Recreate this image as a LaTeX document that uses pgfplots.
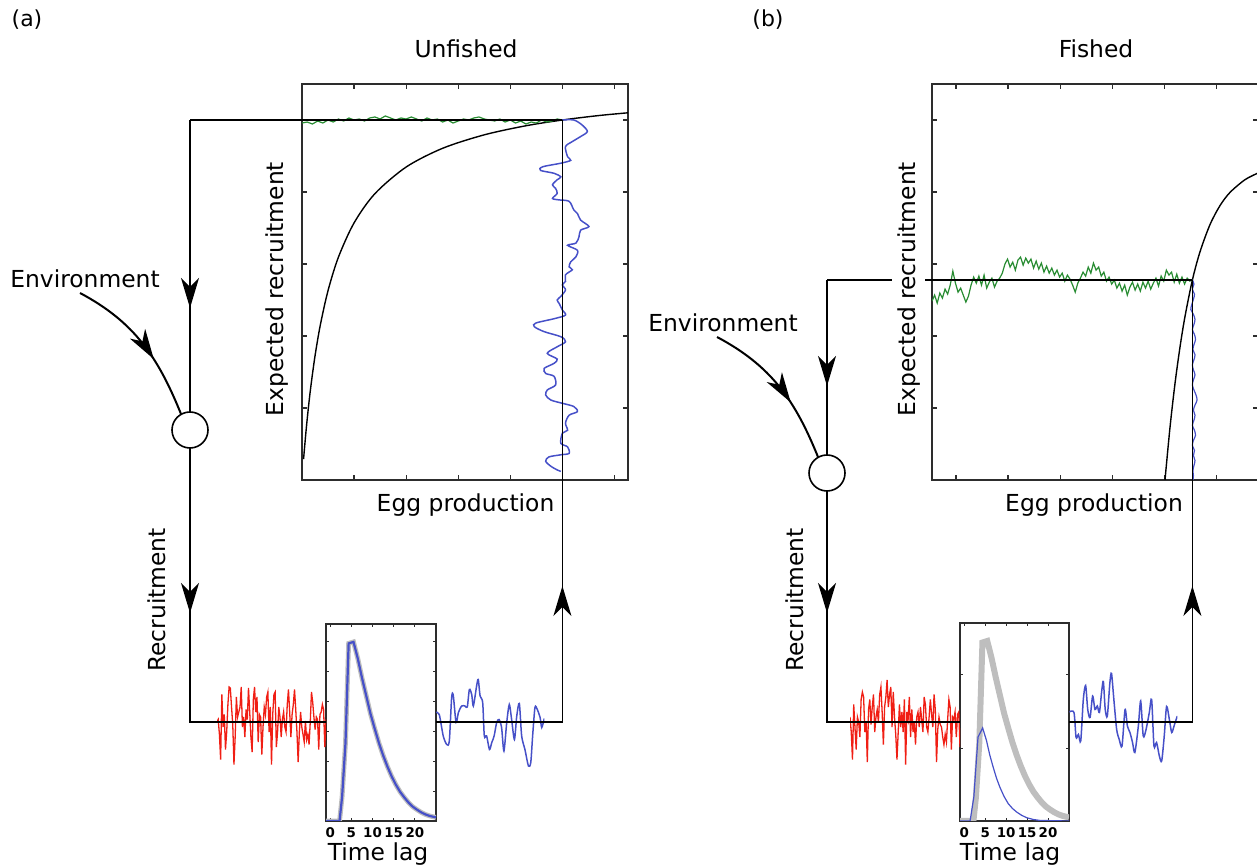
\documentclass[border=0pt]{standalone}
\usepackage{fontspec}
\setmainfont{DejaVu Sans}
\usepackage{pgfplots}
\pgfplotsset{compat=1.18}
\usetikzlibrary{arrows.meta,decorations.markings}

\definecolor{cgreen}{RGB}{40,140,50}
\definecolor{cblue}{RGB}{70,80,200}
\definecolor{cred}{RGB}{240,30,20}
\definecolor{cgray}{RGB}{190,190,190}
\definecolor{frame}{RGB}{45,45,45}

\newcommand{\lab}{\fontsize{11.7}{14}\selectfont}

\pgfplotsset{
  mainax/.style={scale only axis, width=163pt, height=198pt,
    xmin=0, xmax=6.26, ymin=0, ymax=5.5,
    xticklabels={}, yticklabels={}, ytick={1,2,3,4,5},
    major tick length=2.5pt,
    axis line style={frame, line width=0.8pt},
    tick style={frame, line width=0.6pt}},
  smallax/.style={scale only axis, xmin=-1, xmax=25, ymin=0, ymax=6.6,
    xtick={0,5,10,15,20}, xticklabels={0,5,10,15,20}, yticklabels={},
    major tick length=1.5pt,
    /pgf/number format/assume math mode=true,
    axis line style={frame, line width=0.8pt},
    tick style={frame, line width=0.5pt},
    xticklabel style={font=\fontsize{6.7}{8}\selectfont\bfseries, inner sep=0.5pt, yshift=-2.5pt}},
  noiseax/.style={scale only axis, hide axis, height=50pt, ymin=-1, ymax=1},
}
\tikzset{arr/.style={line width=0.65pt, -{Stealth[length=15pt,width=9pt,inset=4.5pt]}}}

\begin{document}
\begin{tikzpicture}[x=0.5pt,y=0.5pt]
\useasboundingbox (0,0) rectangle (1257,866);

% ---------------- (a) main axis ----------------
\begin{axis}[mainax, at={(151pt,193pt)}, anchor=south west, xtick={1,2,3,4,5,6}]
\addplot[black, line width=0.7pt, smooth] coordinates {
(0.03,0.29) (0.05,0.458) (0.08,0.699) (0.12,0.986) (0.17,1.301) (0.25,1.723) (0.35,2.146)
(0.5,2.631) (0.7,3.096) (1.0,3.571) (1.4,3.977) (2.0,4.347) (2.7,4.607) (3.5,4.794)
(4.3,4.920) (5.0,5.0) (5.7,5.062) (6.26,5.10)};
\addplot[cgreen, line width=0.6pt] coordinates {
(0.0,4.958) (0.1,4.972) (0.2,4.944) (0.3,4.986) (0.4,4.958) (0.5,5.0) (0.6,4.972) (0.7,5.014)
(0.8,4.986) (0.9,5.028) (1.0,5.0) (1.1,5.014) (1.2,4.986) (1.3,5.028) (1.4,5.042) (1.5,5.014)
(1.6,5.056) (1.7,5.028) (1.8,5.0) (1.9,5.028) (2.0,5.014) (2.1,5.042) (2.2,5.014) (2.3,4.986)
(2.4,5.028) (2.5,5.0) (2.6,5.014) (2.7,4.972) (2.8,5.0) (2.9,4.958) (3.0,4.986) (3.1,5.014)
(3.2,5.0) (3.3,5.028) (3.4,5.042) (3.5,5.014) (3.6,5.0) (3.7,4.986) (3.8,5.014) (3.9,4.972)
(4.0,5.0) (4.1,4.958) (4.2,4.986) (4.3,4.944) (4.4,4.972) (4.5,4.958) (4.6,5.0) (4.7,4.972)
(4.8,4.986) (4.9,5.014) (5.0,5.0)};
\addplot[cblue, line width=0.75pt, smooth, tension=0.5] coordinates {
(5.0,5.0) (5.22,5.00) (5.38,4.93) (5.48,4.84) (5.35,4.77) (5.19,4.70) (5.06,4.63) (5.10,4.49)
(5.16,4.44) (4.97,4.40) (4.62,4.35) (4.58,4.30) (4.84,4.26) (4.97,4.21) (4.90,4.17) (4.81,4.10)
(4.87,4.05) (4.90,3.98) (4.81,3.91) (4.94,3.89) (5.13,3.87) (5.22,3.75) (5.29,3.70) (5.35,3.61)
(5.51,3.52) (5.35,3.47) (5.32,3.38) (5.26,3.29) (5.10,3.26) (5.29,3.19) (5.26,3.10) (5.16,3.03)
(5.13,2.96) (5.19,2.92) (5.06,2.85) (5.06,2.76) (5.00,2.71) (5.06,2.64) (4.97,2.55) (4.90,2.50)
(4.94,2.45) (5.00,2.36) (5.06,2.29) (4.84,2.24) (4.49,2.18) (4.46,2.13) (4.65,2.06) (4.97,1.99)
(5.06,1.92) (4.90,1.85) (4.71,1.76) (4.90,1.68) (4.84,1.62) (4.65,1.55) (4.68,1.48) (4.84,1.44)
(4.87,1.32) (4.71,1.25) (4.68,1.18) (4.78,1.11) (5.03,1.06) (5.22,1.02) (5.29,0.95) (5.13,0.90)
(5.06,0.79) (5.10,0.69) (5.00,0.65) (4.97,0.51) (5.10,0.46) (5.13,0.37) (4.97,0.35) (4.74,0.32)
(4.68,0.26) (4.78,0.19) (4.90,0.14) (4.97,0.12)};
\end{axis}

% ---------------- (b) main axis ----------------
\begin{axis}[mainax, at={(466pt,193pt)}, anchor=south west, xtick={0.46,1.46,2.46,3.46,4.46,5.46}]
\addplot[black, line width=0.7pt, smooth] coordinates {
(4.474,0) (4.570,0.73) (4.666,1.339) (4.762,1.846) (4.858,2.271) (5.0,2.778) (5.146,3.169)
(5.338,3.547) (5.530,3.811) (5.722,3.994) (6.010,4.171) (6.26,4.263)};
\addplot[cgreen, line width=0.6pt] coordinates {
(0.00,2.484) (0.05,2.568) (0.10,2.457) (0.15,2.596) (0.20,2.526) (0.25,2.651) (0.30,2.582) (0.35,2.707)
(0.40,2.901) (0.45,2.734) (0.50,2.609) (0.55,2.665) (0.60,2.568) (0.65,2.471) (0.70,2.554) (0.75,2.707)
(0.80,2.818) (0.85,2.734) (0.90,2.832) (0.95,2.707) (1.00,2.846) (1.05,2.665) (1.10,2.748) (1.15,2.804)
(1.20,2.679) (1.25,2.762) (1.30,2.804) (1.35,2.873) (1.40,2.998) (1.45,3.068) (1.50,2.957) (1.55,3.026)
(1.60,2.915) (1.65,3.054) (1.70,3.096) (1.75,2.984) (1.80,3.082) (1.85,3.012) (1.90,3.068) (1.95,2.943)
(2.00,3.040) (2.05,2.929) (2.10,3.012) (2.15,2.887) (2.20,2.971) (2.25,2.873) (2.30,2.943) (2.35,2.846)
(2.40,2.915) (2.45,2.818) (2.50,2.873) (2.55,2.762) (2.60,2.846) (2.65,2.790) (2.70,2.707) (2.75,2.609)
(2.80,2.734) (2.85,2.804) (2.90,2.887) (2.95,2.832) (3.00,2.957) (3.05,2.873) (3.10,3.012) (3.15,2.915)
(3.20,2.957) (3.25,2.832) (3.30,2.887) (3.35,2.762) (3.40,2.818) (3.45,2.721) (3.50,2.776) (3.55,2.665)
(3.60,2.734) (3.65,2.623) (3.70,2.707) (3.75,2.568) (3.80,2.679) (3.85,2.748) (3.90,2.637) (3.95,2.721)
(4.00,2.623) (4.05,2.748) (4.10,2.665) (4.15,2.762) (4.20,2.651) (4.25,2.734) (4.30,2.804) (4.35,2.693)
(4.40,2.832) (4.45,2.762) (4.50,2.915) (4.55,2.846) (4.60,2.887) (4.65,2.748) (4.70,2.859) (4.75,2.734)
(4.80,2.818) (4.85,2.721) (4.90,2.804) (4.95,2.762) (5.00,2.78)};
\addplot[cblue, line width=0.6pt, smooth, tension=0.5] coordinates {
(5.00,2.78) (5.03,2.72) (5.00,2.65) (5.04,2.58) (5.02,2.51) (4.99,2.44) (4.97,2.37) (5.02,2.30)
(5.05,2.23) (5.03,2.16) (5.00,2.09) (5.04,2.02) (5.06,1.95) (5.03,1.88) (5.01,1.81) (5.05,1.74)
(5.03,1.67) (5.00,1.60) (5.02,1.53) (5.05,1.46) (5.02,1.39) (5.00,1.32) (5.03,1.25) (5.07,1.18)
(5.09,1.11) (5.05,1.04) (5.02,0.97) (5.05,0.90) (5.03,0.83) (5.00,0.76) (5.04,0.69) (5.06,0.62)
(5.02,0.55) (5.00,0.48) (5.04,0.41) (5.02,0.34) (5.05,0.27) (5.03,0.20) (5.01,0.13) (5.02,0.06) (5.01,0.0)};
\end{axis}

% ---------------- (a) impulse response ----------------
\begin{axis}[smallax, at={(163pt,22.5pt)}, anchor=south west, width=55pt, height=98.5pt, ytick={1,2,3,4,5,6}]
\addplot[cgray, line width=2.4pt] coordinates {
(-1,0) (2.2,0) (2.8,0.8) (3.6,2.6) (4.35,5.95) (5.5,6.0) (6.5,5.45) (7.5,4.8) (8.5,4.2) (9.5,3.6)
(10.5,3.1) (11.5,2.62) (12.5,2.2) (13.5,1.83) (14.5,1.5) (15.5,1.22) (16.5,0.98) (17.5,0.79)
(18.5,0.62) (19.5,0.48) (20.5,0.38) (21.5,0.29) (22.5,0.22) (23.5,0.17) (25,0.12)};
\addplot[cblue, line width=1.1pt] coordinates {
(-1,0) (2.2,0) (2.8,0.8) (3.6,2.6) (4.35,5.95) (5.5,6.0) (6.5,5.45) (7.5,4.8) (8.5,4.2) (9.5,3.6)
(10.5,3.1) (11.5,2.62) (12.5,2.2) (13.5,1.83) (14.5,1.5) (15.5,1.22) (16.5,0.98) (17.5,0.79)
(18.5,0.62) (19.5,0.48) (20.5,0.38) (21.5,0.29) (22.5,0.22) (23.5,0.17) (25,0.12)};
\end{axis}

% ---------------- (b) impulse response ----------------
\begin{axis}[smallax, at={(480pt,22.5pt)}, anchor=south west, width=54.5pt, height=99pt, ytick={2.43,4.87}]
\addplot[cgray, line width=3pt] coordinates {
(-1,0) (2.2,0) (2.8,0.8) (3.6,2.6) (4.35,5.95) (5.5,6.0) (6.5,5.45) (7.5,4.8) (8.5,4.2) (9.5,3.6)
(10.5,3.1) (11.5,2.62) (12.5,2.2) (13.5,1.83) (14.5,1.5) (15.5,1.22) (16.5,0.98) (17.5,0.79)
(18.5,0.62) (19.5,0.48) (20.5,0.38) (21.5,0.29) (22.5,0.22) (23.5,0.17) (25,0.12)};
\addplot[cblue, line width=0.6pt] coordinates {
(-1,0) (1.4,0) (2.3,0.8) (3.3,2.8) (4.4,3.1) (5.3,2.69) (6.1,2.2) (6.9,1.8) (7.7,1.43) (8.5,1.13)
(9.5,0.82) (10.5,0.58) (11.5,0.42) (12.5,0.3) (13.7,0.19) (14.9,0.11) (16.5,0.05) (18,0.02) (25,0)};
\end{axis}

% ---------------- noise series ----------------
\begin{axis}[noiseax, at={(108.5pt,47pt)}, anchor=south west, width=54.5pt, xmin=0, xmax=90]
\addplot[cred, line width=0.65pt] coordinates {
(0,0.0) (1,0.05) (2,-0.25) (3,-0.75) (4,0.55) (5,-0.1) (6,0.15) (7,-0.55) (8,-0.2) (9,0.35)
(10,0.7) (11,0.68) (12,0.3) (13,-0.05) (14,-0.85) (15,-0.3) (16,0.5) (17,0.1) (18,0.2) (19,0.3)
(20,0.7) (21,-0.1) (22,0.1) (23,-0.3) (24,0.25) (25,0.05) (26,0.68) (27,0.2) (28,-0.3) (29,-0.6)
(30,0.45) (31,0.7) (32,0.2) (33,0.5) (34,-0.4) (35,0.15) (36,0.1) (37,-0.65) (38,-0.1) (39,0.3)
(40,0.15) (41,0.5) (42,0.6) (43,-0.2) (44,0.3) (45,-0.85) (46,0.15) (47,0.55) (48,0.6) (49,-0.5)
(50,-0.2) (51,0.3) (52,0.1) (53,-0.3) (54,0.05) (55,0.2) (56,-0.1) (57,-0.2) (58,0.35) (59,0.65)
(60,0.2) (61,-0.3) (62,0.15) (63,0.35) (64,0.65) (65,0.25) (66,-0.2) (67,-0.8) (68,-0.2) (69,0.2)
(70,-0.1) (71,-0.25) (72,-0.4) (73,0.02) (74,-0.35) (75,-0.25) (76,-0.45) (77,0.0) (78,0.6) (79,0.4)
(80,0.1) (81,-0.15) (82,0.1) (83,0.05) (84,-0.55) (85,0.15) (86,0.2) (87,0.35) (88,0.25) (89,-0.5) (90,0.05)};
\end{axis}

\begin{axis}[noiseax, at={(218pt,47pt)}, anchor=south west, width=54.15pt, xmin=0, xmax=46.4]
\addplot[cblue, line width=0.75pt, smooth, tension=0.45] coordinates {
(0,0.19) (1.4,0.15) (3.1,-0.28) (4.6,-0.45) (5.7,-0.38) (6.7,0.49) (7.4,0.53) (8.6,-0.01) (9.6,0.19)
(11,0.32) (12.4,0.32) (13.4,0.30) (14.3,0.65) (15.3,0.55) (16,0.32) (17.4,0.72) (18.1,0.85) (18.9,0.52)
(20,0.39) (20.7,-0.28) (21.7,-0.28) (22.9,-0.55) (23.9,-0.41) (24.9,-0.28) (26,-0.01) (27,0.05)
(28.1,-0.11) (29.1,-0.58) (30.3,-0.01) (31.4,0.35) (32.4,0.05) (33.6,-0.35) (34.6,0.12) (35.7,0.37)
(36.7,-0.28) (38.1,-0.55) (39.6,-0.88) (40.6,-0.81) (41.4,-0.28) (42.4,0.29) (43.4,0.25) (44.6,0.09)
(45.3,-0.11) (46.4,0.07)};
\end{axis}

\begin{axis}[noiseax, at={(425pt,47pt)}, anchor=south west, width=55pt, xmin=0, xmax=89]
\addplot[cred, line width=0.65pt] coordinates {
(0,0.1) (1,-0.2) (2,-0.75) (3,0.35) (4,-0.1) (5,-0.55) (6,0.1) (7,0.0) (8,-0.3) (9,0.45)
(10,0.6) (11,0.5) (12,-0.2) (13,0.0) (14,-0.8) (15,0.25) (16,0.45) (17,-0.05) (18,0.3) (19,0.55)
(20,-0.2) (21,0.1) (22,0.25) (23,0.0) (24,0.55) (25,0.7) (26,0.2) (27,-0.45) (28,0.3) (29,0.5)
(30,0.84) (31,0.3) (32,0.55) (33,0.7) (34,-0.1) (35,0.6) (36,0.1) (37,-0.25) (38,-0.75) (39,-0.2)
(40,0.35) (41,-0.1) (42,0.2) (43,-0.2) (44,0.45) (45,-0.85) (46,0.2) (47,0.05) (48,0.5) (49,-0.3)
(50,0.25) (51,-0.2) (52,0.0) (53,-0.45) (54,0.1) (55,0.2) (56,-0.1) (57,0.3) (58,0.05) (59,-0.2)
(60,0.5) (61,0.35) (62,-0.1) (63,-0.2) (64,0.1) (65,0.45) (66,0.15) (67,-0.1) (68,0.55) (69,0.25)
(70,-0.8) (71,-0.15) (72,0.1) (73,-0.05) (74,-0.1) (75,-0.3) (76,-0.45) (77,-0.25) (78,-0.4) (79,0.05)
(80,0.45) (81,0.3) (82,-0.55) (83,0.1) (84,0.05) (85,0.2) (86,-0.3) (87,0.15) (88,0.2) (89,-0.5)};
\end{axis}

\begin{axis}[noiseax, at={(534.65pt,47pt)}, anchor=south west, width=54pt, xmin=0, xmax=46.3]
\addplot[cblue, line width=0.75pt, smooth, tension=0.45] coordinates {
(0,0.20) (2,0.19) (2.9,-0.31) (3.9,-0.25) (4.9,-0.38) (6,0.45) (7,0.73) (7.9,0.25) (8.9,0.09)
(10,0.52) (11,0.25) (12,0.32) (12.9,0.19) (13.9,0.62) (14.6,0.81) (15.4,0.25) (16.3,0.12)
(17.4,0.79) (18.1,0.97) (19.1,0.45) (20.3,-0.15) (21.4,-0.35) (22.6,-0.48) (23.9,0.25) (24.9,-0.08)
(26,-0.21) (27.1,-0.41) (28.1,-0.61) (29.6,-0.08) (30.6,0.42) (31.7,-0.28) (32.9,-0.15) (34.3,0.19)
(35.3,0.45) (36.3,-0.48) (37.4,-0.41) (38.6,-0.68) (39.6,-0.78) (40.7,-0.28) (41.7,0.31) (42.9,0.05)
(43.9,-0.21) (44.9,-0.08) (46.3,0.12)};
\end{axis}

% ---------------- flow lines ----------------
\begin{scope}[line width=0.65pt, black]
\draw (190,746) -- (562.4,746);
\draw (190,746) -- (190,144) -- (326,144);
\draw (436,144) -- (562.4,144) -- (562.4,746);
\draw (827,586) -- (1192.4,586);
\draw (827,586) -- (827,144) -- (960,144);
\draw (1069,144) -- (1192.4,144) -- (1192.4,586);
\end{scope}

\draw[arr] (190,600) -- (190,558);
\draw[arr] (190,300) -- (190,253);
\draw[arr] (562.4,235) -- (562.4,280);
\draw[arr] (827,525) -- (827,480);
\draw[arr] (827,300) -- (827,253);
\draw[arr] (1192.4,235) -- (1192.4,280);

\draw[line width=0.8pt, fill=white] (190,436) circle[radius=18];
\draw[line width=0.8pt, fill=white] (827,393) circle[radius=18];

\draw[line width=1pt, postaction={decorate}, decoration={markings,
  mark=at position 0.62 with {\arrow{Stealth[length=15pt,width=9pt,inset=4.5pt]}}}]
  (80,573) to[out=-28,in=112] (181,452);
\draw[line width=1pt, postaction={decorate}, decoration={markings,
  mark=at position 0.62 with {\arrow{Stealth[length=15pt,width=9pt,inset=4.5pt]}}}]
  (717,529) to[out=-28,in=112] (818,409);

% ---------------- labels ----------------
\node[font=\lab, anchor=base] at (466,808) {Unfished};
\node[font=\lab, anchor=base] at (1096,808) {Fished};
\node[font=\fontsize{11}{13}\selectfont] at (27,846) {(a)};
\node[font=\fontsize{11}{13}\selectfont] at (768,846) {(b)};
\node[font=\lab, anchor=base] at (85,578) {Environment};
\node[font=\lab, anchor=base] at (723,534) {Environment};
\node[font=\lab, anchor=base, rotate=90] at (165,266) {Recruitment};
\node[font=\lab, anchor=base, rotate=90] at (803,266) {Recruitment};
\node[font=\lab, anchor=base, rotate=90] at (283,577) {Expected recruitment};
\node[font=\lab, rotate=90, fill=white, inner sep=2.5pt, anchor=base] at (915,577) {Expected recruitment};
\node[font=\lab, anchor=base] at (465.5,354) {Egg production};
\node[font=\lab, anchor=base] at (1094,354) {Egg production};
\node[font=\lab, anchor=base] at (378,5) {Time lag};
\node[font=\lab, anchor=base] at (1010,5) {Time lag};
\end{tikzpicture}
\end{document}
